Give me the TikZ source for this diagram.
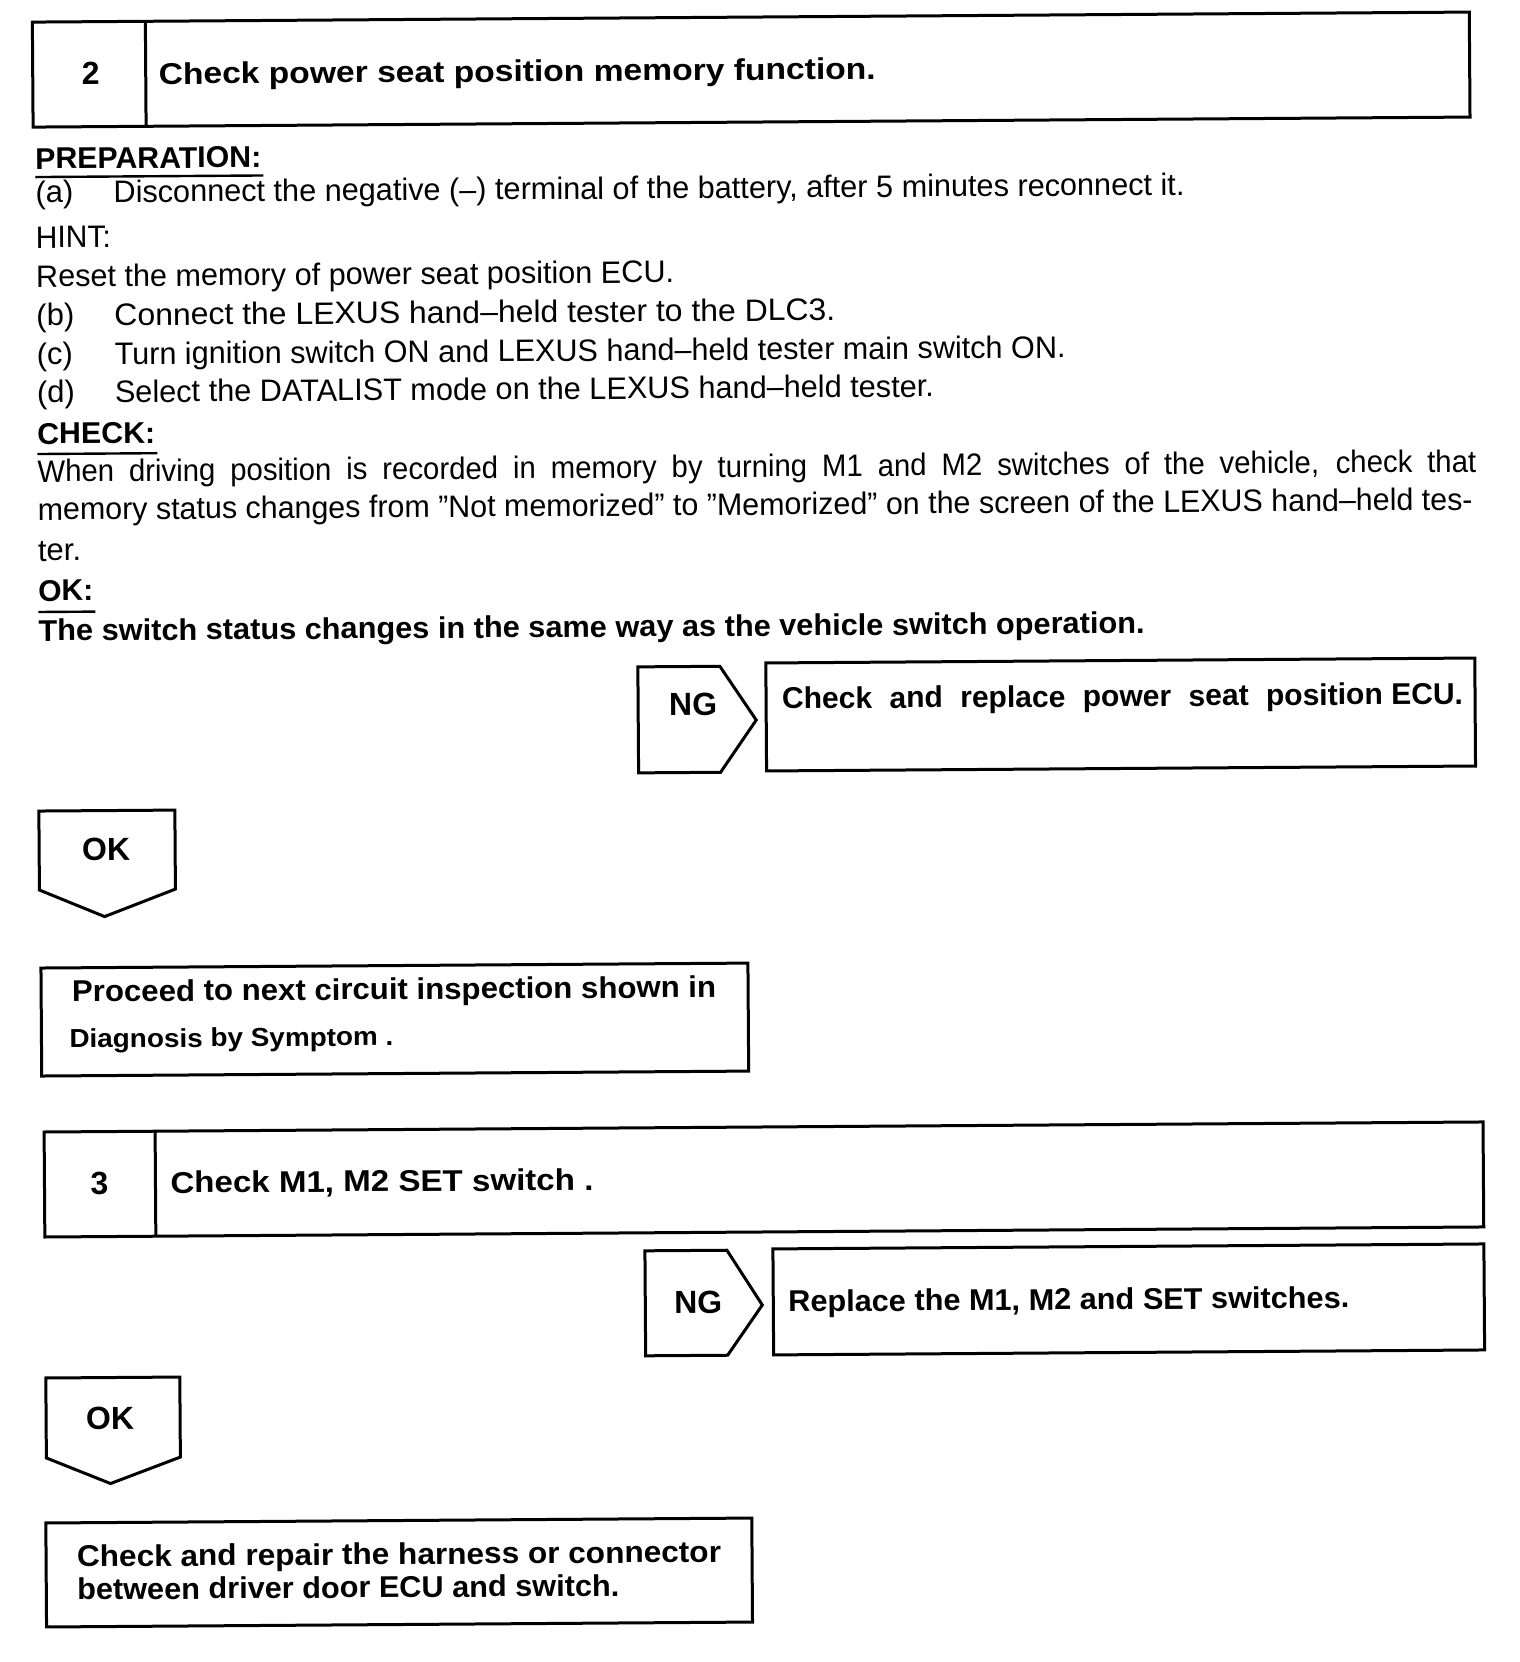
\documentclass[tikz,border=0pt]{standalone}
\usepackage{fontspec}
\setmainfont{Liberation Sans}
\usepackage{graphicx}
\usetikzlibrary{calc}
\newdimen\upx \upx=0.5pt
\newcommand\fitw[2]{\resizebox{#1\upx}{\height}{#2}}
\newcommand\justfit[3]{\resizebox{#1\upx}{\height}{\makebox[#2pt][s]{#3}}}
\begin{document}
\begin{tikzpicture}[x=0.5pt,y=-0.5pt,
  frame/.style={draw=black, line width=1.5pt, line join=miter},
  uline/.style={line width=1.2pt},
  rg/.style={inner sep=0pt, outer sep=0pt, font=\fontsize{15.5}{18}\selectfont, anchor=base west},
  bd/.style={inner sep=0pt, outer sep=0pt, font=\fontsize{15}{18}\bfseries, anchor=base west},
  lbl/.style={inner sep=0pt, outer sep=0pt, font=\fontsize{16}{19}\bfseries, anchor=base}]
\fill[white] (0,0) rectangle (1520,1662);
\useasboundingbox (0,0) rectangle (1520,1662);
\begin{scope}[rotate around={0.4:(760,831)}, transform shape]
% ---- step 2 header
\draw[frame] (38,17) rectangle (1475,122);
\draw[frame] (151,17) -- (151,122);
\node[lbl] (n2) at (96,80) {2};
\node[bd] (t2) at (164,80) {\fitw{717}{Check power seat position memory function.}};
% ---- preparation
\node[bd] (prep) at (40,164) {\fitw{226}{PREPARATION:}};
\draw[uline] ($(prep.base west)+(0,8)$) -- ($(prep.base east)+(2,8)$);
\node[rg] (la) at (40,198) {(a)};
\node[rg] (ta) at (118,198) {\fitw{1071}{Disconnect the negative (–) terminal of the battery, after 5 minutes reconnect it.}};
\node[rg] (hint) at (40,243) {\fitw{75}{HINT:}};
\node[rg] (reset) at (40,282) {\fitw{638}{Reset the memory of power seat position ECU.}};
\node[rg] (lb) at (40,321) {(b)};
\node[rg] (tb) at (118,321) {\fitw{721}{Connect the LEXUS hand–held tester to the DLC3.}};
\node[rg] (lc) at (40,360) {(c)};
\node[rg] (tc) at (118,360) {\fitw{951}{Turn ignition switch ON and LEXUS hand–held tester main switch ON.}};
\node[rg] (ld) at (40,398) {(d)};
\node[rg] (td) at (118,398) {\fitw{819}{Select the DATALIST mode on the LEXUS hand–held tester.}};
% ---- check
\node[bd] (check) at (40,439) {\fitw{118}{CHECK:}};
\draw[uline] ($(check.base west)+(0,10)$) -- ($(check.base east)+(2,10)$);
\node[rg] (c1) at (40,477) {\justfit{1439}{760}{When driving position is recorded in memory by turning M1 and M2 switches of the vehicle, check that}};
\node[rg] (c2) at (40,515) {\fitw{1435}{memory status changes from ”Not memorized” to ”Memorized” on the screen of the LEXUS hand–held tes-}};
\node[rg] (c3) at (40,556) {\fitw{43}{ter.}};
% ---- ok
\node[bd] (okh) at (40,596) {\fitw{55}{OK:}};
\draw[uline] ($(okh.base west)+(0,11)$) -- ($(okh.base east)+(2,11)$);
\node[bd] (okt) at (40,636) {\fitw{1106}{The switch status changes in the same way as the vehicle switch operation.}};
% ---- NG 1
\draw[frame] (639,666) -- (721,666) -- (757,720) -- (721,772) -- (639,772) -- cycle;
\node[lbl] (ng1) at (694,715) {NG};
\draw[frame] (767,663) rectangle (1476,771);
\node[bd] (r1) at (783,709) {\justfit{681}{340}{Check and replace power seat position\kern0.28em ECU.}};
% ---- OK 1
\draw[frame] (39,806) -- (175,806) -- (175,885) -- (104,912) -- (39,885) -- cycle;
\node[lbl] (ok1) at (106,856) {OK};
\draw[frame] (40,963) rectangle (747,1071);
\node[bd] (p1) at (71,997) {\fitw{644}{Proceed to next circuit inspection shown in}};
\node[bd, font=\fontsize{13}{15}\bfseries] (p2) at (68,1043) {\fitw{324}{Diagnosis by Symptom .}};
% ---- step 3 header
\draw[frame] (42,1127) rectangle (1481,1232);
\draw[frame] (153,1127) -- (153,1232);
\node[lbl] (n3) at (97,1190) {3};
\node[bd] (t3) at (168,1189) {\fitw{423}{Check M1, M2 SET switch .}};
% ---- NG 2
\draw[frame] (642,1250) -- (724,1250) -- (759,1305) -- (724,1355) -- (642,1355) -- cycle;
\node[lbl] (ng2) at (695,1313) {NG};
\draw[frame] (770,1249) rectangle (1481,1355);
\node[bd] (r2) at (785,1312) {\fitw{561}{Replace the M1, M2 and SET switches.}};
% ---- OK 2
\draw[frame] (42,1373) -- (176,1373) -- (176,1453) -- (106,1479) -- (42,1453) -- cycle;
\node[lbl] (ok2) at (106,1425) {OK};
\draw[frame] (41,1518) rectangle (747,1622);
\node[bd] (f1) at (72,1562) {\fitw{644}{Check and repair the harness or connector}};
\node[bd] (f2) at (72,1595) {\fitw{542}{between driver door ECU and switch.}};
\end{scope}
\end{tikzpicture}
\end{document}
